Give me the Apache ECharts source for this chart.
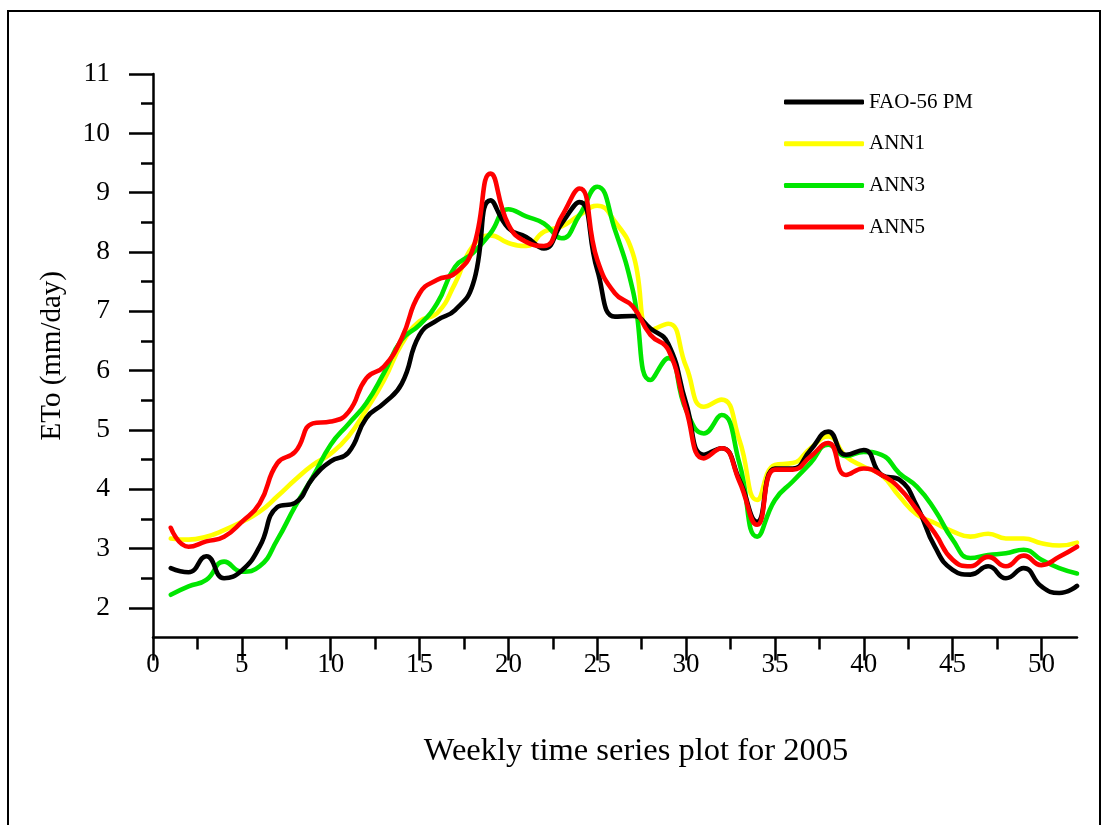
<!DOCTYPE html>
<html>
<head>
<meta charset="utf-8">
<script src="https://cdn.jsdelivr.net/npm/echarts@6/dist/echarts.min.js"></script>
<style>
html,body{margin:0;padding:0;background:#fff;}
#chart{width:1107px;height:825px;}
</style>
</head>
<body>
<div id="chart"></div>
<script>
// ---- data ----
var weeks = [];
for (var i = 1; i <= 52; i++) weeks.push(i);

var fao56 = [2.67,2.6,2.87,2.5,2.63,3.03,3.7,3.77,4.19,4.47,4.62,5.2,5.45,5.78,6.6,6.85,7.02,7.45,8.87,8.4,8.25,8.06,8.48,8.84,7.7,6.91,6.92,6.71,6.45,5.45,4.58,4.69,4.16,3.45,4.35,4.35,4.66,4.97,4.58,4.66,4.24,4.16,3.71,3.03,2.64,2.56,2.7,2.5,2.67,2.36,2.25,2.37];
var ann1 = [3.17,3.15,3.2,3.31,3.45,3.62,3.88,4.16,4.41,4.6,4.89,5.34,5.84,6.45,6.83,6.97,7.47,8.1,8.28,8.15,8.1,8.34,8.43,8.62,8.78,8.51,7.98,6.68,6.79,6.07,5.39,5.51,4.83,3.82,4.41,4.44,4.69,4.89,4.55,4.38,4.24,3.88,3.57,3.43,3.29,3.2,3.25,3.17,3.17,3.09,3.05,3.1];
var ann3 = [2.22,2.36,2.47,2.78,2.61,2.7,3.15,3.71,4.21,4.75,5.1,5.45,5.96,6.52,6.77,7.14,7.75,7.98,8.32,8.72,8.6,8.48,8.23,8.62,9.1,8.37,7.36,5.84,6.21,5.34,4.94,5.25,4.44,3.2,3.82,4.13,4.44,4.75,4.56,4.63,4.58,4.27,4.04,3.65,3.15,2.84,2.89,2.92,2.98,2.81,2.67,2.58];
var ann5 = [3.35,3.03,3.12,3.2,3.45,3.76,4.44,4.63,5.11,5.14,5.3,5.87,6.07,6.55,7.3,7.53,7.64,8.05,9.32,8.46,8.17,8.1,8.6,9.07,7.87,7.3,7.08,6.6,6.35,5.34,4.52,4.69,4.13,3.4,4.33,4.33,4.55,4.78,4.24,4.35,4.24,4.02,3.65,3.26,2.81,2.7,2.86,2.7,2.88,2.72,2.86,3.03];

var seriesNames = ['FAO-56 PM','ANN1','ANN3','ANN5'];
var xMajorTicks = [0,5,10,15,20,25,30,35,40,45,50];
var xMinorTicks = [2.5,7.5,12.5,17.5,22.5,27.5,32.5,37.5,42.5,47.5];
var yMajorTicks = [2,3,4,5,6,7,8,9,10,11];
var yMinorTicks = [2.5,3.5,4.5,5.5,6.5,7.5,8.5,9.5,10.5];

function pairs(vals){ return weeks.map(function(w,i){ return [w, vals[i]]; }); }

var FONT = '"Liberation Serif","Times New Roman",serif';
var chart = echarts.init(document.getElementById('chart'), null, {renderer:'canvas'});

function lineSeries(name, vals, color){
  return {
    name: name, type:'line', smooth:true, showSymbol:false, symbol:'none',
    data: pairs(vals),
    lineStyle:{color:color, width:4.6, cap:'round', join:'round'},
    itemStyle:{color:color},
    emphasis:{disabled:true}
  };
}

var axisLineStyle = {color:'#000', width:2.5};

chart.setOption({
  backgroundColor:'#ffffff',
  animation:false,
  grid:{left:153, right:30, top:74, bottom:187.5, containLabel:false},
  legend:{
    data: seriesNames,
    orient:'vertical',
    left:784, top:91.5, padding:0,
    itemWidth:80, itemHeight:5, itemGap:20.7,
    icon:'roundRect',
    textStyle:{fontFamily:FONT, fontSize:21, color:'#000', lineHeight:21}
  },
  xAxis:[{
    type:'value', min:0, max:52,
    axisLine:{show:true, lineStyle:axisLineStyle},
    axisTick:{show:true, customValues:xMajorTicks, length:23, lineStyle:{color:'#000', width:2.5}},
    axisLabel:{customValues:xMajorTicks, fontFamily:FONT, fontSize:27, color:'#000', margin:14},
    splitLine:{show:false},
    name:'Weekly time series plot for 2005',
    nameLocation:'middle', nameGap:97,
    nameTextStyle:{fontFamily:FONT, fontSize:32.5, color:'#000', padding:[0,0,0,42]}
  },{
    type:'value', min:0, max:52, position:'bottom',
    axisLine:{show:false},
    axisTick:{show:true, customValues:xMinorTicks, length:12, lineStyle:{color:'#000', width:2.5}},
    axisLabel:{show:false},
    splitLine:{show:false}
  }],
  yAxis:[{
    type:'value', min:1.5, max:11,
    axisLine:{show:true, lineStyle:axisLineStyle},
    axisTick:{show:true, customValues:yMajorTicks, length:24, lineStyle:{color:'#000', width:2.5}},
    axisLabel:{customValues:yMajorTicks, fontFamily:FONT, fontSize:27.5, color:'#000', margin:43},
    splitLine:{show:false},
    name:'ETo (mm/day)',
    nameLocation:'middle', nameGap:86, nameRotate:90,
    nameTextStyle:{fontFamily:FONT, fontSize:29, color:'#000'}
  },{
    type:'value', min:1.5, max:11, position:'left',
    axisLine:{show:false},
    axisTick:{show:true, customValues:yMinorTicks, length:12, lineStyle:{color:'#000', width:2.5}},
    axisLabel:{show:false},
    splitLine:{show:false}
  }],
  graphic:[{
    type:'rect', silent:true,
    shape:{x:8, y:11, width:1092, height:830},
    style:{fill:'none', stroke:'#000', lineWidth:2}
  }],
  series:[
    lineSeries('ANN1', ann1, '#ffff00'),
    lineSeries('ANN3', ann3, '#00e600'),
    lineSeries('FAO-56 PM', fao56, '#000000'),
    lineSeries('ANN5', ann5, '#ff0000')
  ]
});
</script>
</body>
</html>
